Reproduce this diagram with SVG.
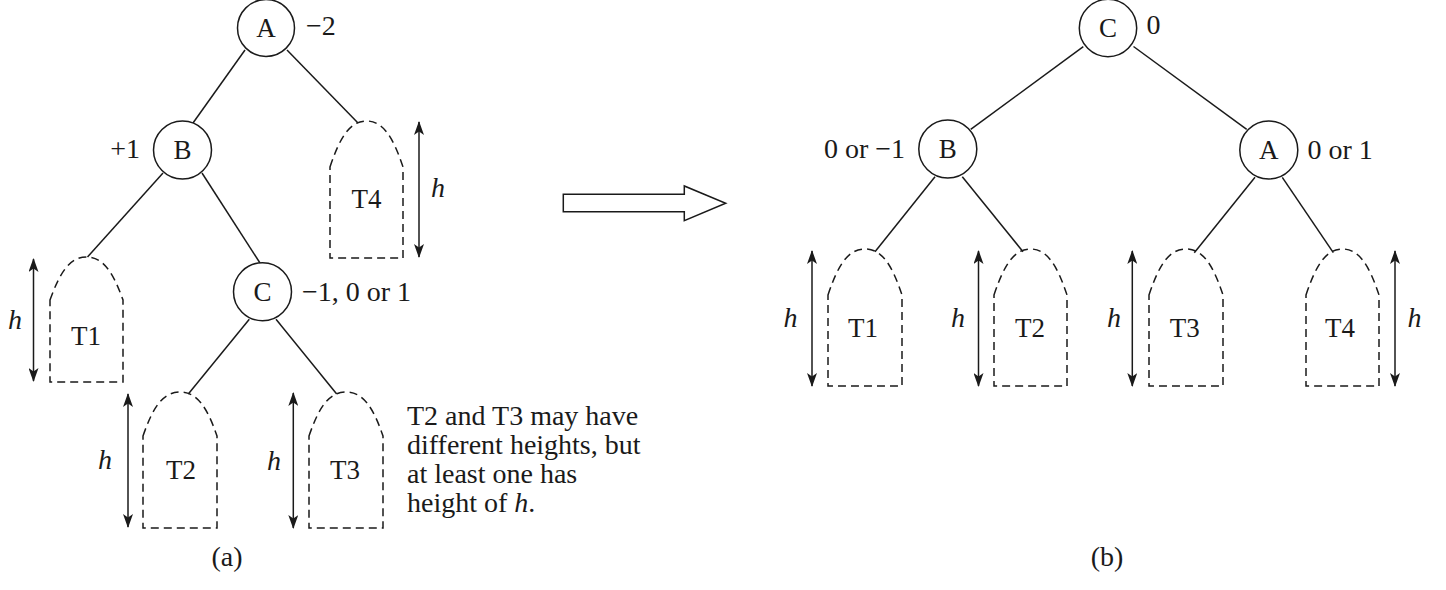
<svg xmlns="http://www.w3.org/2000/svg" width="1446" height="590" viewBox="0 0 1446 590">
<style>
  .node circle { fill: #fff; stroke: #1a1a1a; stroke-width: 1.5; }
  .lbl { font-family: "Liberation Serif", "Times New Roman", serif; fill: #1a1a1a; }
  .nl { font-size: 27px; text-anchor: middle; }
  .bal { font-size: 28px; }
  .tl { font-size: 27px; text-anchor: middle; }
  .hl { font-size: 28px; font-style: italic; text-anchor: middle; }
  .para { font-size: 28px; }
  .sub path { fill: none; stroke: #1a1a1a; stroke-width: 1.5; stroke-dasharray: 8 5; }
  .edges line { stroke: #1a1a1a; stroke-width: 1.5; }
  .dim line { stroke: #1a1a1a; stroke-width: 1.5; marker-start: url(#ah); marker-end: url(#ah); }
</style>
<defs>
  <marker id="ah" viewBox="0 0 14 10" refX="13" refY="5" markerWidth="14" markerHeight="10" markerUnits="userSpaceOnUse" orient="auto-start-reverse">
    <path d="M0,0 L14,5 L0,10 L3.5,5 Z" fill="#1a1a1a"/>
  </marker>
</defs>
<rect width="1446" height="590" fill="#fff"/>

<g id="connectors" class="edges">
  <line x1="245" y1="50" x2="193" y2="123"/>
  <line x1="287" y1="50" x2="358" y2="123"/>
  <line x1="163" y1="173" x2="87.5" y2="257"/>
  <line x1="202" y1="173" x2="260" y2="263"/>
  <line x1="249.3" y1="319.3" x2="188.3" y2="394"/>
  <line x1="276" y1="319.3" x2="336.7" y2="394"/>
  <line x1="1083.3" y1="46.7" x2="970.7" y2="129.3"/>
  <line x1="1133.5" y1="46.5" x2="1246.7" y2="129.3"/>
  <line x1="935" y1="176.7" x2="875" y2="251.7"/>
  <line x1="962.3" y1="176.7" x2="1023" y2="251.7"/>
  <line x1="1255" y1="177.3" x2="1194.3" y2="252.7"/>
  <line x1="1282.3" y1="177.3" x2="1333.3" y2="252.7"/>
</g>

<!-- (a) tree -->
<g id="a-A" class="node"><circle cx="266" cy="28" r="28.5"/><text class="lbl nl" x="266" y="37">A</text><text class="lbl bal" x="306" y="35">−2</text></g>
<g id="a-B" class="node"><circle cx="182.5" cy="150" r="29"/><text class="lbl nl" x="182.5" y="159">B</text><text class="lbl bal" x="140" y="158" text-anchor="end">+1</text></g>
<g id="a-C" class="node"><circle cx="262.5" cy="291.7" r="29"/><text class="lbl nl" x="262.5" y="300.7">C</text><text class="lbl bal" x="302" y="301">−1, 0 or 1</text></g>

<g id="a-T4" class="sub">
  <path d="M330,167 C340,137 350,121 366.5,121 C383,121 393,137 403,167 L403,258 L330,258 Z"/>
  <text class="lbl tl" x="366.5" y="208">T4</text>
</g>
<g id="a-T1" class="sub">
  <path d="M50,300 C60,272 70,257 86.5,257 C103,257 113,272 123,300 L123,382 L50,382 Z"/>
  <text class="lbl tl" x="86" y="345">T1</text>
</g>
<g id="a-T2" class="sub">
  <path d="M143,436 C153,407 163,392 180,392 C197,392 207,407 217,436 L217,528 L143,528 Z"/>
  <text class="lbl tl" x="181" y="479">T2</text>
</g>
<g id="a-T3" class="sub">
  <path d="M309,436 C319,407 329,392 346,392 C363,392 373,407 383,436 L383,528 L309,528 Z"/>
  <text class="lbl tl" x="345" y="479">T3</text>
</g>

<g id="a-dims" class="dim">
  <line x1="419" y1="122" x2="419" y2="257"/>
  <line x1="33.5" y1="259" x2="33.5" y2="381"/>
  <line x1="128" y1="394" x2="128" y2="527"/>
  <line x1="293.3" y1="393" x2="293.3" y2="528"/>
</g>
<g id="a-h" class="lbl hl">
  <text x="438" y="197">h</text>
  <text x="15" y="329">h</text>
  <text x="105" y="469">h</text>
  <text x="274" y="470">h</text>
</g>

<g id="note" class="lbl para">
  <text x="407" y="425">T2 and T3 may have</text>
  <text x="407" y="454">different heights, but</text>
  <text x="407" y="483">at least one has</text>
  <text x="407" y="512">height of <tspan font-style="italic">h</tspan>.</text>
</g>
<text id="cap-a" class="lbl bal" x="227" y="566" text-anchor="middle">(a)</text>

<!-- transform arrow -->
<g id="transform-arrow">
  <polygon points="563.3,194.3 684.3,194.3 684.3,186 725.7,203.3 684.3,220.7 684.3,211.7 563.3,211.7" fill="#fff" stroke="#1a1a1a" stroke-width="1.5" stroke-linejoin="miter"/>
</g>

<!-- (b) tree -->
<g id="b-C" class="node"><circle cx="1108" cy="28" r="28.7"/><text class="lbl nl" x="1108" y="37">C</text><text class="lbl bal" x="1146.5" y="33.5">0</text></g>
<g id="b-B" class="node"><circle cx="947.8" cy="149" r="29"/><text class="lbl nl" x="947.8" y="158">B</text><text class="lbl bal" x="905" y="158" text-anchor="end">0 or −1</text></g>
<g id="b-A" class="node"><circle cx="1268.8" cy="150" r="29"/><text class="lbl nl" x="1268.8" y="159">A</text><text class="lbl bal" x="1307.5" y="158.5">0 or 1</text></g>

<g id="b-T1" class="sub">
  <path d="M828,295 C838,265 848,249 865,249 C882,249 892,265 902,295 L902,386 L828,386 Z"/>
  <text class="lbl tl" x="863" y="337">T1</text>
</g>
<g id="b-T2" class="sub">
  <path d="M994,295 C1004,265 1014,249 1030.5,249 C1047,249 1057,265 1067,295 L1067,386 L994,386 Z"/>
  <text class="lbl tl" x="1030" y="337">T2</text>
</g>
<g id="b-T3" class="sub">
  <path d="M1149,295 C1159,265 1169,249 1186,249 C1203,249 1213,265 1223,295 L1223,386 L1149,386 Z"/>
  <text class="lbl tl" x="1184.7" y="337">T3</text>
</g>
<g id="b-T4" class="sub">
  <path d="M1306,295 C1316,265 1326,249 1342.5,249 C1359,249 1369,265 1379,295 L1379,386 L1306,386 Z"/>
  <text class="lbl tl" x="1340" y="337">T4</text>
</g>

<g id="b-dims" class="dim">
  <line x1="812" y1="251" x2="812" y2="386"/>
  <line x1="978.5" y1="251" x2="978.5" y2="386"/>
  <line x1="1132.3" y1="251" x2="1132.3" y2="386"/>
  <line x1="1395" y1="251" x2="1395" y2="386"/>
</g>
<g id="b-h" class="lbl hl">
  <text x="790.5" y="327">h</text>
  <text x="958" y="327">h</text>
  <text x="1114" y="327">h</text>
  <text x="1414.5" y="327">h</text>
</g>
<text id="cap-b" class="lbl bal" x="1107" y="566" text-anchor="middle">(b)</text>
</svg>
